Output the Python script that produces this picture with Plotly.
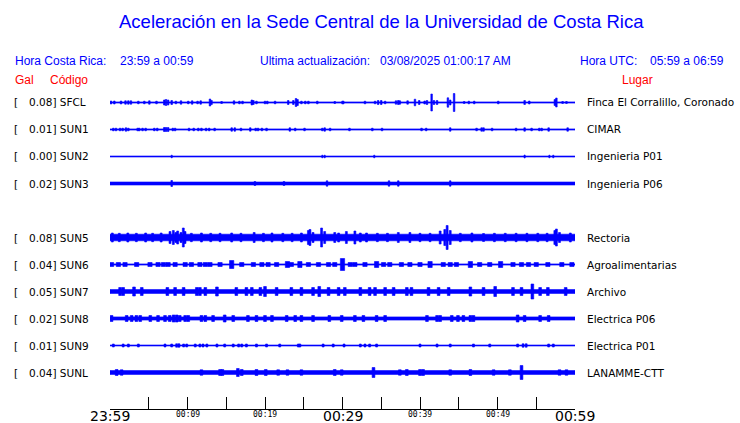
import plotly.graph_objects as go

W, H = 740, 423

# ---------------- data ----------------
codes = ["SFCL", "SUN1", "SUN2", "SUN3", "SUN5", "SUN6", "SUN7", "SUN8", "SUN9", "SUNL"]
gal = [0.08, 0.01, 0.00, 0.02, 0.08, 0.04, 0.05, 0.02, 0.01, 0.04]
places = ["Finca El Corralillo, Coronado", "CIMAR", "Ingenieria P01", "Ingenieria P06",
          "Rectoria", "Agroalimentarias", "Archivo", "Electrica P06", "Electrica P01", "LANAMME-CTT"]

# background noise half-amplitude of each trace (screen units)
base_amp = [0.6, 0.6, 0.5, 1.5, 3.3, 0.6, 1.9, 1.6, 0.5, 1.9]
# typical burst duration (minutes)
burst_dur = [0.2, 0.2, 0.15, 0.2, 0.25, 0.55, 0.35, 0.35, 0.25, 0.35]

# events: (minute after 23:59, half amplitude)
ev_sfcl = [(0.13, 1.5), (0.56, 1.5), (1.42, 1.5), (2.0, 1.7), (2.37, 1.7), (2.7, 1.7), (3.66, 1.3),
           (4.43, 1.3), (5.08, 1.7), (6.0, 1.3), (7.0, 2.5), (7.23, 3.0), (7.5, 2.5), (7.96, 2.0),
           (8.5, 1.3), (9.16, 1.7), (10.1, 1.3), (10.6, 1.7), (11.3, 1.3), (11.7, 1.7), (12.9, 3.5),
           (13.1, 2.0), (14.4, 1.0), (16.0, 1.7), (16.7, 1.3), (17.1, 1.3), (18.3, 2.5), (18.5, 2.0),
           (18.9, 1.3), (20.0, 1.3), (20.3, 1.3), (21.3, 1.3), (23.0, 2.0), (23.66, 2.0), (24.0, 4.0),
           (24.2, 3.0), (24.7, 1.3), (25.2, 1.3), (25.6, 1.3), (26.75, 1.3), (29.0, 1.0), (30.0, 1.3),
           (30.1, 1.3), (32.9, 1.3), (34.2, 1.3), (34.6, 2.0), (35.0, 2.0), (35.5, 1.3), (36.9, 1.7),
           (37.2, 2.0), (37.4, 1.7), (38.4, 1.7), (39.35, 3.3), (39.9, 2.0), (40.6, 1.5), (40.9, 2.0),
           (41.5, 8.5), (41.8, 2.0), (42.2, 2.0), (43.6, 4.7), (43.9, 2.5), (44.4, 9.0), (45.7, 1.0),
           (46.3, 1.3), (47.0, 1.3), (50.1, 1.3), (53.5, 2.0), (54.1, 1.5), (57.4, 3.0), (57.6, 4.5),
           (58.4, 1.0), (58.9, 1.0)]
ev_sun1 = [(0.43, 1.3), (0.77, 1.3), (1.29, 1.3), (1.63, 1.3), (2.06, 1.7), (2.37, 1.3), (3.57, 1.3),
           (3.78, 1.3), (4.2, 1.3), (4.6, 1.3), (5.72, 1.3), (6.1, 1.3), (7.0, 2.0), (7.23, 2.0),
           (7.5, 2.0), (8.1, 1.3), (8.4, 1.3), (10.2, 1.3), (10.8, 1.3), (11.4, 1.3), (11.8, 1.3),
           (12.4, 1.3), (12.8, 1.3), (13.5, 1.3), (15.7, 1.7), (16.1, 1.7), (16.9, 1.3), (18.1, 1.7),
           (18.8, 1.3), (19.1, 1.3), (19.6, 1.3), (20.2, 1.3), (23.2, 1.7), (23.9, 1.3), (25.1, 1.3),
           (27.4, 1.3), (27.7, 1.7), (28.4, 1.3), (30.9, 1.3), (33.85, 1.3), (35.1, 1.3), (40.2, 1.3),
           (40.8, 1.3), (43.9, 1.7), (47.3, 1.3), (47.95, 1.7), (48.2, 1.7), (49.3, 1.3), (52.4, 1.3),
           (53.5, 1.7), (54.4, 1.3), (55.4, 1.3), (55.7, 1.3), (56.6, 1.7), (59.05, 1.7)]
ev_sun2 = [(7.96, 1.3), (27.4, 1.3), (27.7, 1.3), (34.1, 1.3), (53.5, 1.5), (56.7, 1.3), (57.2, 1.3)]
ev_sun3 = [(7.96, 3.0), (18.7, 2.0), (22.45, 2.0), (28.0, 2.7), (36.0, 2.7), (37.2, 2.7), (43.9, 2.7)]
ev_sun5 = [(0.3, 4.5), (1.2, 4.2), (2.3, 4.5), (3.4, 4.2), (4.6, 4.5), (5.5, 4.2), (6.6, 4.5),
           (7.74, 6.0), (8.17, 7.0), (8.5, 5.0), (8.73, 6.5), (9.16, 5.0), (9.46, 9.5), (9.68, 6.0),
           (10.5, 4.2), (11.8, 4.5), (13.0, 4.2), (14.2, 4.2), (15.7, 4.5), (16.9, 4.2), (18.6, 5.0),
           (19.8, 4.2), (20.9, 4.5), (22.3, 4.2), (23.5, 4.2), (24.7, 4.5), (25.6, 7.0), (25.8, 8.0),
           (26.2, 5.0), (27.3, 9.5), (27.7, 6.0), (29.0, 5.0), (29.5, 4.5), (30.5, 6.0), (31.6, 6.5),
           (32.3, 4.5), (33.1, 4.5), (34.5, 4.2), (35.8, 4.2), (37.2, 5.0), (38.7, 5.0), (40.0, 4.2),
           (41.3, 4.2), (42.6, 6.5), (43.2, 8.0), (43.5, 12.0), (43.9, 7.0), (45.2, 4.2), (46.7, 4.5),
           (48.2, 4.0), (49.6, 4.2), (51.0, 4.2), (52.4, 4.2), (53.8, 4.2), (55.2, 4.2), (56.4, 4.2),
           (57.4, 7.0), (57.6, 8.5), (58.0, 5.0), (59.4, 4.5)]
ev_sun6 = [(0.2, 2.0), (1.08, 2.0), (1.94, 2.0), (3.44, 2.0), (5.16, 2.0), (6.2, 2.0), (6.9, 2.0),
           (7.5, 2.0), (8.4, 2.0), (9.7, 2.0), (10.5, 2.0), (11.6, 2.0), (12.3, 2.0), (12.9, 2.0),
           (14.2, 2.0), (15.7, 4.0), (17.0, 2.0), (18.5, 2.0), (19.6, 2.0), (20.4, 2.0), (21.5, 2.0),
           (22.9, 3.0), (23.4, 2.0), (24.5, 3.0), (25.6, 2.0), (26.9, 2.0), (28.2, 2.0), (29.0, 2.0),
           (30.0, 6.0), (31.0, 2.0), (31.6, 2.0), (32.9, 2.0), (34.4, 3.0), (35.3, 2.0), (36.1, 2.0),
           (37.6, 2.0), (38.7, 2.0), (40.0, 2.0), (41.3, 3.0), (43.0, 2.0), (43.9, 2.0), (44.7, 2.0),
           (46.5, 3.0), (47.7, 2.0), (49.0, 2.0), (50.4, 3.0), (52.0, 2.0), (53.1, 2.0), (54.0, 2.0),
           (55.0, 2.0), (56.5, 2.0), (58.3, 2.0), (59.6, 2.0)]
ev_sun7 = [(1.3, 4.0), (1.7, 4.0), (3.1, 4.5), (4.1, 4.0), (7.4, 4.0), (8.4, 4.0), (9.5, 4.0),
           (11.2, 4.0), (11.6, 4.0), (12.3, 4.0), (13.8, 4.5), (16.3, 4.0), (17.6, 4.0), (18.3, 4.0),
           (19.4, 4.0), (20.0, 5.0), (21.5, 4.0), (23.4, 4.0), (24.7, 4.0), (26.2, 4.0), (27.0, 5.0),
           (28.2, 4.0), (29.5, 4.0), (30.3, 4.0), (32.3, 4.0), (33.5, 4.0), (34.2, 4.0), (35.5, 4.0),
           (36.6, 4.0), (38.3, 4.0), (38.9, 4.0), (41.1, 4.0), (42.4, 4.0), (43.7, 4.0), (46.5, 4.5),
           (48.2, 4.0), (49.7, 5.0), (52.0, 4.0), (53.1, 4.0), (54.5, 7.5), (55.5, 4.0), (56.5, 4.0),
           (58.8, 4.0)]
ev_sun8 = [(0.2, 3.0), (2.15, 3.0), (2.8, 3.0), (3.4, 3.0), (3.9, 3.0), (5.2, 3.0), (6.2, 3.0),
           (7.1, 3.0), (7.7, 3.0), (8.2, 3.5), (8.6, 3.5), (9.0, 3.0), (9.7, 3.0), (10.1, 3.0),
           (11.8, 3.0), (12.3, 3.0), (13.3, 3.0), (14.8, 3.5), (15.9, 3.0), (17.8, 3.0), (18.9, 3.0),
           (20.0, 3.0), (20.9, 3.0), (22.8, 3.0), (23.9, 3.0), (24.7, 3.0), (26.2, 3.0), (28.3, 3.0),
           (29.9, 3.0), (31.6, 3.0), (32.7, 3.0), (34.4, 3.0), (35.5, 3.0), (40.9, 3.0), (42.2, 3.0),
           (42.6, 3.0), (44.1, 3.0), (44.9, 3.0), (45.6, 3.0), (46.5, 3.0), (46.9, 3.0), (52.6, 3.5),
           (53.5, 3.0), (55.5, 3.0), (56.6, 3.0)]
ev_sun9 = [(0.43, 1.5), (1.7, 1.5), (2.37, 1.5), (3.66, 1.5), (7.1, 1.5), (7.96, 1.5), (8.6, 1.7),
           (8.9, 1.7), (9.5, 1.5), (9.9, 1.5), (11.0, 1.5), (11.6, 1.5), (12.0, 1.5), (12.5, 1.5),
           (13.8, 1.5), (14.8, 1.5), (15.9, 1.5), (16.6, 1.5), (17.0, 1.5), (17.6, 1.5), (18.9, 1.5),
           (20.2, 1.5), (21.9, 1.5), (24.3, 1.5), (24.5, 1.5), (27.5, 1.5), (28.8, 1.5), (30.2, 1.5),
           (32.3, 1.5), (32.9, 1.5), (33.5, 1.5), (34.4, 1.5), (40.0, 1.5), (42.2, 1.5), (43.9, 1.5),
           (46.9, 1.5), (49.0, 1.5), (52.6, 1.5), (53.3, 1.7), (53.7, 1.7), (56.6, 1.5), (57.2, 1.5)]
ev_sunl = [(0.86, 3.0), (1.5, 2.7), (11.8, 2.7), (14.2, 3.0), (14.5, 3.0), (16.5, 4.0), (17.0, 3.0),
           (18.9, 3.0), (20.1, 3.0), (21.7, 2.7), (22.9, 2.7), (24.7, 2.7), (29.0, 3.0), (29.9, 2.7),
           (34.0, 5.0), (37.4, 2.7), (38.3, 3.0), (40.0, 3.0), (40.4, 3.0), (43.9, 2.7), (46.5, 3.0),
           (49.5, 2.7), (51.6, 2.7), (53.1, 7.0), (58.0, 2.7), (58.9, 2.7)]
events = [ev_sfcl, ev_sun1, ev_sun2, ev_sun3, ev_sun5, ev_sun6, ev_sun7, ev_sun8, ev_sun9, ev_sunl]

tick_minutes = list(range(0, 61, 5))
tick_labels = {0: "23:59", 10: "00:09", 20: "00:19", 30: "00:29", 40: "00:39", 50: "00:49", 60: "00:59"}
big_labels = {0, 30, 60}

# ---------------- layout helpers ----------------
row_slot = [0, 1, 2, 3, 5, 6, 7, 8, 9, 10]   # slot 4 (SUN4) is empty
ROW0, ROWSTEP = 102.5, 27
BLUE = "#0000ff"

fig = go.Figure()
for i, code in enumerate(codes):
    c = ROW0 + ROWSTEP * row_slot[i]
    a = base_amp[i]
    xs = [0, 60, 60, 0, 0, None]
    ys = [c - a, c - a, c + a, c + a, c - a, None]
    hw = burst_dur[i] / 2
    for t, amp in events[i]:
        xs += [t - hw, t + hw, t + hw, t - hw, t - hw, None]
        ys += [c - amp, c - amp, c + amp, c + amp, c - amp, None]
    fig.add_trace(go.Scatter(x=xs, y=ys, mode="lines", fill="toself", fillcolor=BLUE,
                             line=dict(color=BLUE, width=0.6), hoverinfo="skip", showlegend=False))

AXIS_Y = 409
fig.update_layout(
    width=W, height=H, margin=dict(l=0, r=0, t=0, b=0),
    paper_bgcolor="white", plot_bgcolor="white",
    xaxis=dict(domain=[110 / W, 575 / W], range=[0, 60], showgrid=False, zeroline=False,
               showline=True, linecolor="black", linewidth=1, ticks="inside", ticklen=12,
               tickcolor="black", tickwidth=1, tickvals=tick_minutes, showticklabels=False),
    yaxis=dict(domain=[(H - AXIS_Y) / H, 1], range=[AXIS_Y, 0], visible=False),
)

def px_x(p):
    return p / W

def px_y(p):
    return 1 - p / H

ann = []
SANS = "Liberation Sans, Arial, sans-serif"
DJ = "DejaVu Sans, sans-serif"
ann.append(dict(text="Aceleración en la Sede Central de la Universidad de Costa Rica",
                x=px_x(382), y=px_y(22), xanchor="center", yanchor="middle",
                font=dict(family=SANS, size=18.5, color=BLUE)))
for txt, xp in [("Hora Costa Rica:", 13), ("23:59 a 00:59", 118), ("Ultima actualización:", 258),
                ("03/08/2025 01:00:17 AM", 378), ("Hora UTC:", 578), ("05:59 a 06:59", 648)]:
    ann.append(dict(text=txt, x=px_x(xp), y=px_y(61), xanchor="left", yanchor="middle",
                    font=dict(family=SANS, size=12, color=BLUE)))
for txt, xp in [("Gal", 13), ("Código", 48), ("Lugar", 620)]:
    ann.append(dict(text=txt, x=px_x(xp), y=px_y(80), xanchor="left", yanchor="middle",
                    font=dict(family=SANS, size=12, color="#ff0000")))
for i, code in enumerate(codes):
    cy = ROW0 + ROWSTEP * row_slot[i]
    ann.append(dict(text="[", x=px_x(12), y=px_y(cy), xanchor="left", yanchor="middle",
                    font=dict(family=DJ, size=10.5, color="black")))
    ann.append(dict(text=f"{gal[i]:.2f}] {code}", x=px_x(27), y=px_y(cy), xanchor="left",
                    yanchor="middle", font=dict(family=DJ, size=10.5, color="black")))
    ann.append(dict(text=places[i], x=px_x(585), y=px_y(cy), xanchor="left", yanchor="middle",
                    font=dict(family=DJ, size=10.5, color="black")))
for m, lab in tick_labels.items():
    big = m in big_labels
    ann.append(dict(text=lab, x=m, xref="x", y=px_y(416 if big else 414), yref="paper",
                    xanchor="center", yanchor="middle",
                    font=dict(family=DJ if big else "DejaVu Sans Mono, monospace",
                              size=14 if big else 8, color="black")))
for a in ann:
    a.setdefault("xref", "paper")
    a.setdefault("yref", "paper")
    a["showarrow"] = False
fig.update_layout(annotations=ann)

fig.write_html("out.html", config={"displayModeBar": False},
               post_script="document.body.style.margin='0';")
